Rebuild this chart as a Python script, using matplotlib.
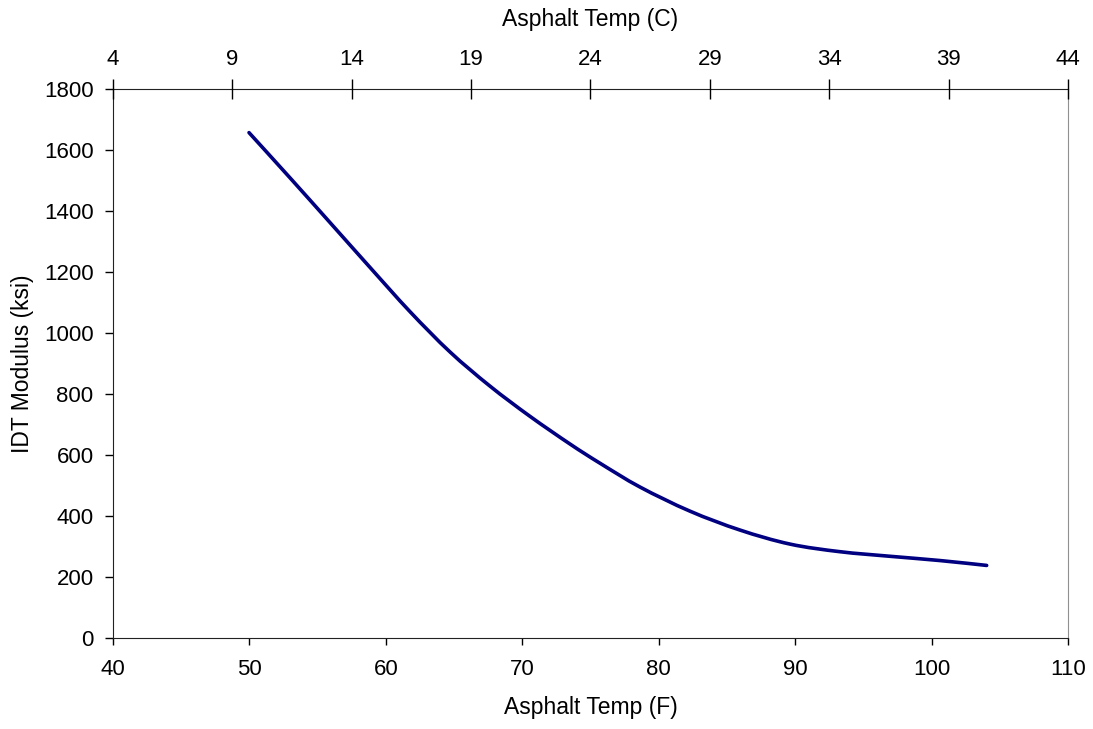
import matplotlib
matplotlib.use('Agg')
import matplotlib.pyplot as plt
from matplotlib.path import Path
from matplotlib.patches import PathPatch
import numpy as np

# values
temp_f = [49.97, 52.97, 55.91, 58.84, 61.77, 64.70, 67.63, 70.56, 73.50, 75.70,
          78.63, 82.29, 85.96, 89.62, 93.29, 96.95, 100.62, 104.04]
modulus = [1657, 1509, 1362, 1215, 1070, 938, 826, 727, 636, 573,
           495, 416, 354, 308, 283, 268, 254, 238]

f_ticks = np.arange(40, 111, 10)
y_ticks = np.arange(0, 1801, 200)
c_ticks = np.arange(4, 45, 5)


def smooth_path(xs, ys):
    # Excel-like smoothed line: cubic Bezier through every point
    p = np.column_stack([xs, ys]).astype(float)
    verts = [p[0]]
    codes = [Path.MOVETO]
    for i in range(len(p) - 1):
        p0 = p[i - 1] if i > 0 else p[i]
        p3 = p[i + 2] if i + 2 < len(p) else p[i + 1]
        c1 = p[i] + (p[i + 1] - p0) / 6
        c2 = p[i + 1] - (p3 - p[i]) / 6
        verts += [c1, c2, p[i + 1]]
        codes += [Path.CURVE4] * 3
    return Path(verts, codes)


plt.rcParams['font.family'] = ['Liberation Sans', 'DejaVu Sans']
plt.rcParams['font.size'] = 16

fig = plt.figure(figsize=(10.93, 7.29), dpi=100)
ax = fig.add_axes([0.1034, 0.1248, 0.8737, 0.7531])
ax.add_patch(PathPatch(smooth_path(temp_f, modulus), facecolor='none',
                       edgecolor='#000080', linewidth=2.6, capstyle='round'))
ax.set_xlim(40, 110)
ax.set_ylim(0, 1800)
ax.set_xticks(f_ticks)
ax.set_yticks(y_ticks)
ax.set_xlabel('Asphalt Temp (F)', fontsize=16.5)
ax.set_ylabel('IDT Modulus (ksi)', fontsize=16.5)
ax.xaxis.set_label_coords(0.5, -0.106)
ax.yaxis.set_label_coords(-0.083, 0.5)
ax.tick_params(axis='x', direction='out', length=5, width=1, pad=10)
ax.tick_params(axis='y', direction='out', length=6, width=1, pad=8)
ax.spines['right'].set_color('#909090')
for s in ['left', 'bottom', 'top']:
    ax.spines[s].set_color('#222222')

top = ax.twiny()
top.set_xlim(4, 44)
top.set_xticks(c_ticks)
top.set_xlabel('Asphalt Temp (C)', fontsize=16.5)
top.xaxis.set_label_coords(0.5, 1.114)
top.tick_params(axis='x', direction='inout', length=14, width=1, pad=7)
for s in top.spines.values():
    s.set_visible(False)

fig.savefig('out.png', dpi=100)
